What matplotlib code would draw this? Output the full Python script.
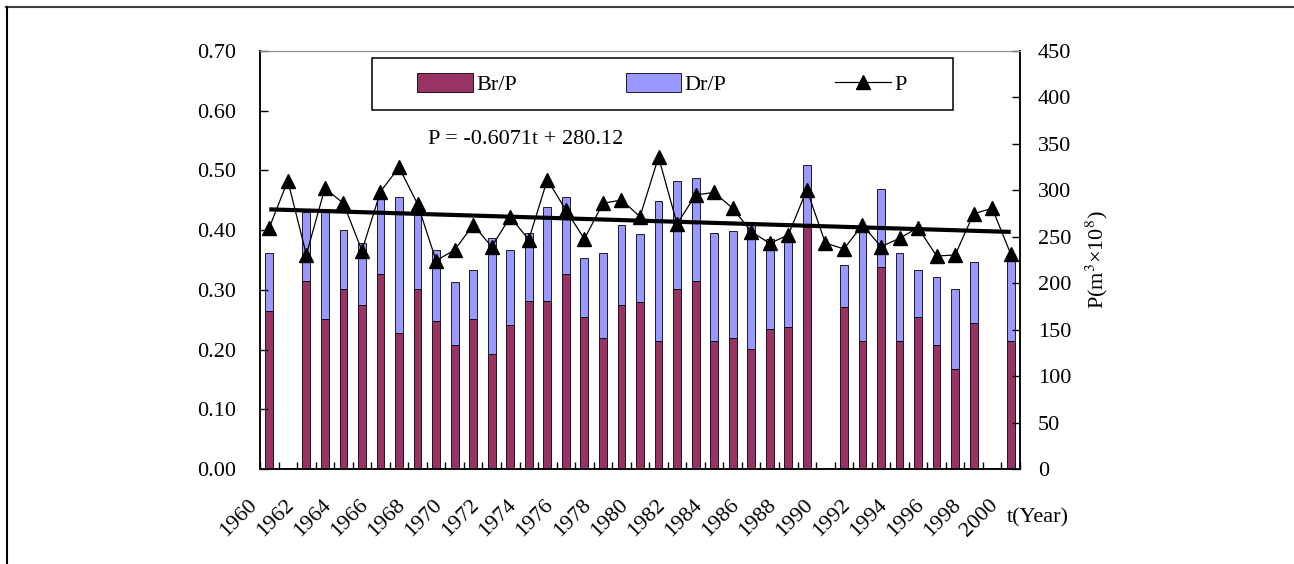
import numpy as np
import matplotlib
matplotlib.use("Agg")
import matplotlib.pyplot as plt
from matplotlib.lines import Line2D
from matplotlib.patches import Rectangle
from matplotlib.transforms import ScaledTranslation

plt.rcParams["font.family"] = ["Liberation Serif", "DejaVu Serif"]
plt.rcParams["mathtext.fontset"] = "stix"

years = list(range(1960, 2001))
nan = np.nan
br_p = [0.265, nan, 0.315, 0.252, 0.301, 0.275, 0.326, 0.227, 0.301, 0.248,
        0.208, 0.252, 0.192, 0.241, 0.282, 0.282, 0.326, 0.255, 0.219, 0.275,
        0.279, 0.214, 0.301, 0.315, 0.214, 0.219, 0.201, 0.234, 0.238, 0.406,
        nan, 0.272, 0.214, 0.339, 0.214, 0.255, 0.208, 0.167, 0.245, nan, 0.214]
dr_p = [0.097, nan, 0.116, 0.179, 0.100, 0.104, 0.127, 0.229, 0.136, 0.118,
        0.105, 0.082, 0.195, 0.125, 0.113, 0.157, 0.129, 0.099, 0.142, 0.134,
        0.114, 0.235, 0.181, 0.172, 0.181, 0.180, 0.208, 0.152, 0.143, 0.103,
        nan, 0.070, 0.195, 0.130, 0.147, 0.079, 0.113, 0.134, 0.101, nan, 0.142]
p_vals = [259.7, 310.4, 230.8, 302.2, 286.0, 235.1, 298.6, 324.8, 285.3, 224.3,
          235.8, 262.7, 239.4, 271.3, 246.9, 311.5, 278.8, 247.6, 286.0, 289.6,
          271.7, 335.9, 263.8, 295.0, 297.8, 280.6, 255.5, 242.9, 251.9, 300.7,
          243.3, 236.9, 262.7, 239.4, 248.3, 259.8, 229.3, 230.4, 274.9, 280.6,
          231.5]
trend_slope = -0.6071
trend_icept = 280.12

W, H = 1294, 564
fig = plt.figure(figsize=(W / 100, H / 100), dpi=100)
ax = fig.add_axes([260 / W, 1 - 469 / H, 760 / W, 418 / H])
ax2 = ax.twinx()

x = np.arange(len(years))
fs = 16
bw = 0.42
b1 = ax.bar(x, br_p, bw, color="#993366", edgecolor="black", linewidth=0.6)
b2 = ax.bar(x, dr_p, bw, bottom=br_p, color="#9999FF", edgecolor="black", linewidth=0.6)

# linear trend as printed on the chart, t = 1 for 1960
t = np.arange(1, len(years) + 1)
ax2.plot(x, trend_slope * t + trend_icept, color="black", linewidth=3.0, solid_capstyle="butt")
lp, = ax2.plot(x, p_vals, color="black", linewidth=0.9, marker="^", markersize=9.5)

ax.set_xlim(-0.5, len(years) - 0.5)
ax.set_ylim(0, 0.70)
ax2.set_ylim(0, 450)
ax.set_yticks(np.arange(0, 0.71, 0.1))
ax.set_yticklabels([f"{v:.2f}" for v in np.arange(0, 0.71, 0.1)], fontsize=fs)
ax2.set_yticks(range(0, 451, 50))
ax2.set_yticklabels([str(v) for v in range(0, 451, 50)], fontsize=fs)
ax.tick_params(axis="y", direction="in", length=6, width=1, pad=17)
ax2.tick_params(axis="y", direction="in", length=6, width=1, pad=13)

ax.set_xticks(x[::2])
ax.set_xticklabels([str(y) for y in years[::2]], fontsize=fs, rotation=45,
                   ha="right", va="center", rotation_mode="anchor")
ax.tick_params(axis="x", which="major", length=0, pad=24)
ax.set_xticks(np.arange(-0.5, len(years)), minor=True)
ax.tick_params(axis="x", which="minor", direction="in", length=5, width=1)
shift = ScaledTranslation(-15 / 100, 0, fig.dpi_scale_trans)
for lab in ax.get_xticklabels():
    lab.set_transform(lab.get_transform() + shift)

for a in (ax, ax2):
    for s in ("left", "right", "bottom"):
        a.spines[s].set_linewidth(1.1)
    a.spines["top"].set_color("#909090")
    a.spines["top"].set_linewidth(0.8)

fig.text(1007 / W, 1 - 518 / H, "t(Year)", fontsize=fs, ha="left", va="center")
fig.text(1097 / W, 1 - 260 / H, r"P(m$^{3}$×10$^{8}$)", fontsize=fs,
         rotation=90, ha="center", va="center")
fig.text(428 / W, 1 - 140 / H, "P = -0.6071t + 280.12", fontsize=fs, ha="left", va="center")

fig.add_artist(Rectangle((372 / W, 1 - 110 / H), 581 / W, 52 / H, transform=fig.transFigure,
                         facecolor="white", edgecolor="black", linewidth=1.1, zorder=4))
fig.legend([b1, b2, lp], ["Br/P", "Dr/P", "P"], ncol=3, frameon=False, loc="center",
           bbox_to_anchor=(662 / W, 1 - 84 / H), bbox_transform=fig.transFigure,
           fontsize=fs, handlelength=2.5, handleheight=0.9, handletextpad=0.15,
           columnspacing=4.9, borderpad=0)

# outer chart frame (top and left edges only)
fig.add_artist(Line2D([6 / W, 1], [1 - 7 / H, 1 - 7 / H], transform=fig.transFigure,
                      color="#404040", linewidth=1.5))
fig.add_artist(Line2D([7 / W, 7 / W], [0, 1 - 7 / H], transform=fig.transFigure,
                      color="black", linewidth=1.5))

fig.savefig("out.png", dpi=100)
